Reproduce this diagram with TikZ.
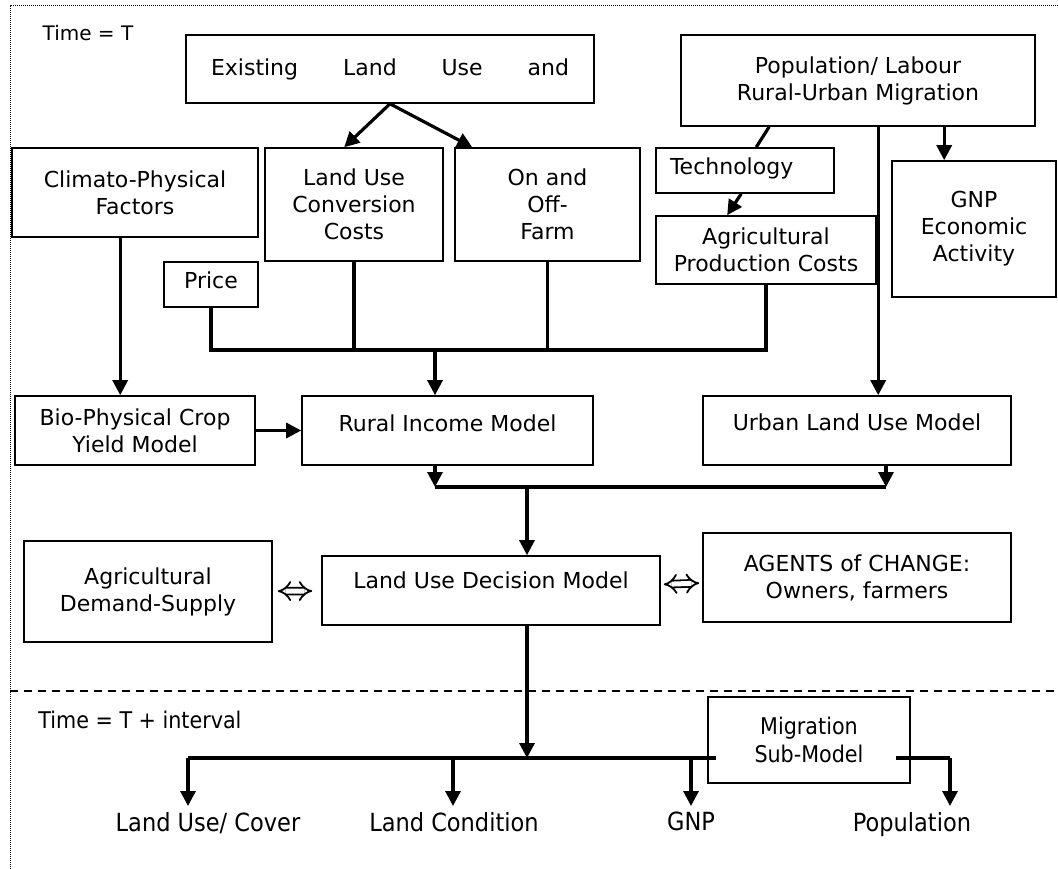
\documentclass[tikz,border=0pt]{standalone}
\usepackage{fontspec}
\setmainfont{DejaVu Sans}
\newfontfamily\condfont{DejaVu Sans Condensed}
\usetikzlibrary{arrows.meta}

\tikzset{
  box/.style={draw, line width=1.6pt, align=center, inner sep=0pt, font=\fontsize{22}{27}\selectfont},
  conn/.style={line width=3.2pt},
  arr/.style={conn, -{Triangle[length=15pt,width=15pt]}},
  both/.style={double, line width=1.8pt, double distance=5pt, {Implies}-{Implies}},
  outlabel/.style={anchor=north, inner sep=6pt, font=\condfont\fontsize{25}{30}\selectfont}
}

\begin{document}
\begin{tikzpicture}[x=1pt, y=-1pt]
\useasboundingbox (0,0) rectangle (1058,869);
\draw[densely dotted, line width=1pt] (10,869) -- (10,6) -- (1058,6);
\draw[line width=1.6pt, dash pattern=on 8pt off 6pt] (10,691) -- (1058,691);
\node[font=\fontsize{20}{24}\selectfont] (timeT) at (88,33) {Time = T};
\node[font=\condfont\fontsize{23}{27}\selectfont] (timeTI) at (140,720) {Time = T + interval};

% top row
\node[box, minimum width=408, minimum height=68, text width=358] (exist) at (390,69) {Existing\hfill Land\hfill Use\hfill and};
\node[box, minimum width=354, minimum height=91] (pop) at (858,80.5) {Population/ Labour\\Rural-Urban Migration};
\node[box, minimum width=246, minimum height=89] (clim) at (135,192.5) {Climato-Physical\\Factors};
\node[box, minimum width=178, minimum height=113] (conv) at (354,204.5) {Land Use\\Conversion\\Costs};
\node[box, minimum width=185, minimum height=113] (onoff) at (547.5,204.5) {On and\\Off-\\Farm};
\node[box, minimum width=178, minimum height=45, text width=150, align=left, text depth=9pt] (tech) at (745,170.5) {Technology};
\node[box, minimum width=220, minimum height=68] (agprod) at (766,250) {Agricultural\\Production Costs};
\node[box, minimum width=164, minimum height=136] (gnp) at (974,229) {GNP\\Economic\\Activity};
\node[box, minimum width=94, minimum height=45, text depth=9pt] (price) at (211,284.5) {Price};

% models
\node[box, minimum width=240, minimum height=69] (bio) at (135,430.5) {Bio-Physical Crop\\Yield Model};
\node[box, minimum width=291, minimum height=69, text depth=14pt] (rural) at (447.5,430.5) {Rural Income Model};
\node[box, minimum width=308, minimum height=69, text depth=16pt] (urban) at (857,430.5) {Urban Land Use Model};
\node[box, minimum width=248, minimum height=101] (ads) at (148,591.5) {Agricultural\\Demand-Supply};
\node[box, minimum width=338, minimum height=69, text depth=20pt] (lud) at (491,590.5) {Land Use Decision Model};
\node[box, minimum width=308, minimum height=89] (agents) at (857,577.5) {AGENTS of CHANGE:\\Owners, farmers};
\node[box, minimum width=202, minimum height=86, font=\condfont\fontsize{23}{28}\selectfont] (mig) at (809,740) {Migration\\Sub-Model};

% outputs
\node[outlabel] (lcover) at (208,806) {Land Use/ Cover};
\node[outlabel] (lcond) at (454,806) {Land Condition};
\node[outlabel] (ognp) at (691,806) {GNP};
\node[outlabel] (opop) at (912,806) {Population};

\coordinate (collect) at (435,350);
\coordinate (mergeL) at (435,487);
\coordinate (mergeR) at (886,487);
\coordinate (mergeC) at (527,487);
\coordinate (busL) at (188,758);
\coordinate (busA) at (716,758);
\coordinate (busB) at (896,758);
\coordinate (busR) at (950,758);
\coordinate (busC) at (527,758);
\coordinate (busLC) at (453,758);
\coordinate (busG) at (691,758);

\draw[arr] (exist.south) -- ([xshift=80pt]conv.north west);
\draw[arr] (exist.south) -- ([xshift=18pt]onoff.north west);
\draw[conn] ([xshift=89pt]pop.south west) -- ([xshift=101pt]tech.north west);
\draw[arr] ([xshift=86pt]tech.south west) -- ([xshift=72pt]agprod.north west);
\draw[arr] ([xshift=264pt]pop.south west) -- ([xshift=264pt]pop.south west |- gnp.north);
\draw[arr] ([xshift=198pt]pop.south west) -- ([xshift=198pt]pop.south west |- urban.north);
\draw[arr] ([xshift=109pt]clim.south west) -- ([xshift=109pt]clim.south west |- bio.north);

\draw[conn] (price.south) |- (collect) -| (agprod.south);
\draw[conn] (conv.south) -- (conv.south |- collect);
\draw[conn] (onoff.south) -- (onoff.south |- collect);
\draw[arr] (collect) -- (collect |- rural.north);
\draw[arr] (bio) -- (rural);

\draw[arr] (rural.south -| mergeL) -- (mergeL);
\draw[arr] (urban.south -| mergeR) -- (mergeR);
\draw[conn] (mergeL) -- (mergeR);
\draw[arr] (mergeC) -- (mergeC |- lud.north);
\draw[both, shorten <=5pt, shorten >=9pt] (ads) -- (lud);
\draw[both, shorten <=3pt, shorten >=3pt] (lud) -- (agents);

\draw[arr] (lud.south -| busC) -- (busC);
\draw[conn] (busL) -- (busA);
\draw[conn] (busB) -- (busR);
\draw[arr] (busL) -- (busL |- lcover.north);
\draw[arr] (busLC) -- (busLC |- lcond.north);
\draw[arr] (busG) -- (busG |- ognp.north);
\draw[arr] (busR) -- (busR |- opop.north);
\end{tikzpicture}
\end{document}
